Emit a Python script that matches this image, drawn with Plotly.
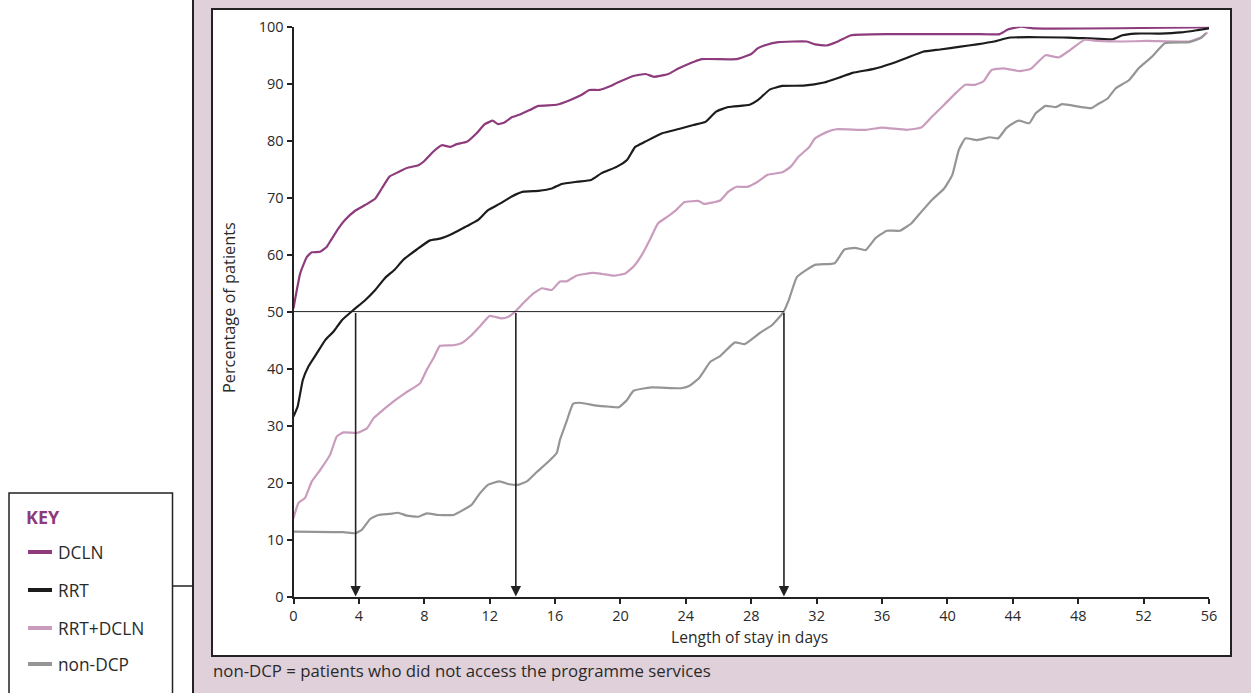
import plotly.graph_objects as go

# ---------------- data (day, cumulative % of patients) ----------------
DCLN = [(0, 50.6), (0.41, 56.7), (0.82, 59.6), (1.12, 60.4), (1.63, 60.5), (2.04, 61.4), (2.24, 62.3),
        (2.75, 64.6), (3.16, 66.1), (3.77, 67.7), (4.38, 68.7), (4.99, 69.8), (5.40, 71.6), (5.87, 73.7),
        (6.42, 74.5), (6.93, 75.2), (7.64, 75.7), (7.95, 76.3), (8.56, 78.1), (9.07, 79.2), (9.58, 78.9),
        (9.99, 79.4), (10.6, 79.8), (11.2, 81.3), (11.7, 82.9), (12.2, 83.5), (12.5, 82.9), (12.9, 83.2),
        (13.35, 84.1), (13.86, 84.6), (14.47, 85.4), (14.98, 86.1), (16.1, 86.3), (16.9, 87.1), (17.6, 88.0),
        (18.1, 88.9), (18.7, 88.9), (19.4, 89.6), (19.76, 90.1), (20.78, 91.35), (21.54, 91.7), (22.05, 91.2),
        (22.93, 91.7), (23.57, 92.7), (24.2, 93.5), (24.96, 94.3), (27.1, 94.3), (28.0, 95.2), (28.39, 96.2),
        (28.9, 96.8), (29.66, 97.3), (31.4, 97.4), (31.9, 96.9), (32.6, 96.7), (33.3, 97.4), (34.1, 98.5),
        (36.5, 98.7), (41.6, 98.7), (43.2, 98.7), (43.7, 99.5), (44.5, 100), (45.3, 99.7), (56, 99.9)]

RRT = [(0, 31.6), (0.25, 33.3), (0.57, 38.0), (0.92, 40.4), (1.43, 42.7), (1.94, 45.0), (2.45, 46.5),
       (2.96, 48.5), (3.67, 50.3), (4.38, 52.0), (5.0, 53.8), (5.6, 55.9), (6.2, 57.4), (6.72, 59.1),
       (7.54, 60.9), (8.35, 62.5), (8.96, 62.8), (9.78, 63.75), (10.6, 65.0), (11.3, 66.1), (11.9, 67.8),
       (12.6, 68.9), (13.35, 70.2), (14.06, 71.05), (14.98, 71.2), (15.8, 71.6), (16.4, 72.4), (17.4, 72.8),
       (18.2, 73.1), (18.85, 74.3), (19.76, 75.4), (20.4, 76.6), (20.9, 78.9), (21.5, 79.8), (22.55, 81.3),
       (23.57, 82.05), (24.46, 82.75), (25.2, 83.3), (25.85, 85.1), (26.6, 85.9), (27.9, 86.3), (28.4, 87.1),
       (29.15, 89.0), (29.9, 89.6), (31.2, 89.65), (32.45, 90.2), (33.5, 91.2), (34.2, 91.9), (35.5, 92.6),
       (36.5, 93.45), (37.5, 94.5), (38.5, 95.6), (39.55, 96.0), (40.8, 96.5), (41.8, 96.9), (42.85, 97.4),
       (43.85, 98.1), (47.4, 98.1), (48.7, 97.95), (50.1, 97.8), (50.7, 98.5), (51.5, 98.8), (53.0, 98.8),
       (54.3, 99.0), (55.3, 99.4), (56, 99.7)]

RRT_DCLN = [(0, 13.75), (0.3, 16.4), (0.71, 17.3), (1.12, 20.2), (1.63, 22.2), (2.24, 24.9), (2.65, 28.1),
            (3.06, 28.8), (3.88, 28.7), (4.49, 29.5), (4.9, 31.3), (5.5, 32.8), (6.1, 34.2), (6.83, 35.7),
            (7.74, 37.4), (8.15, 39.8), (8.56, 41.8), (8.96, 44.0), (9.78, 44.1), (10.3, 44.5), (10.9, 45.9),
            (11.4, 47.4), (12.0, 49.25), (12.74, 48.8), (13.14, 49.1), (13.55, 50.0), (14.06, 51.5),
            (14.67, 53.2), (15.2, 54.1), (15.8, 53.8), (16.3, 55.3), (16.7, 55.3), (17.3, 56.3), (18.3, 56.8),
            (18.9, 56.6), (19.6, 56.3), (20.3, 56.7), (20.8, 57.9), (21.3, 59.9), (21.8, 62.6), (22.3, 65.5),
            (22.9, 66.7), (23.4, 67.8), (23.9, 69.2), (24.8, 69.4), (25.1, 68.9), (26.1, 69.5), (26.6, 71.05),
            (27.1, 71.9), (27.75, 71.9), (28.4, 72.8), (29.0, 74.0), (29.9, 74.45), (30.4, 75.4), (30.9, 77.2),
            (31.55, 78.9), (31.9, 80.4), (32.6, 81.5), (33.2, 82.0), (35.0, 81.9), (36.0, 82.3), (37.5, 81.9),
            (38.4, 82.3), (39.05, 84.2), (39.8, 86.3), (40.6, 88.6), (41.1, 89.8), (41.7, 89.8), (42.2, 90.4),
            (42.7, 92.4), (43.4, 92.7), (44.4, 92.2), (45.1, 92.6), (46.0, 95.0), (46.8, 94.6), (47.5, 95.9),
            (48.4, 97.7), (49.2, 97.5), (50.7, 97.4), (52.2, 97.5), (54.8, 97.4), (55.5, 98.1), (55.9, 99.0)]

NON_DCP = [(0, 11.4), (3.06, 11.3), (3.77, 11.1), (4.18, 11.7), (4.69, 13.6), (5.2, 14.3), (5.9, 14.5),
           (6.4, 14.7), (6.93, 14.2), (7.64, 14.0), (8.15, 14.6), (8.86, 14.3), (9.78, 14.3), (10.2, 14.9),
           (10.9, 16.1), (11.4, 18.1), (11.9, 19.6), (12.6, 20.2), (13.2, 19.7), (13.75, 19.6), (14.27, 20.2),
           (14.9, 21.9), (15.6, 23.7), (16.1, 25.2), (16.3, 27.5), (16.7, 30.7), (17.1, 33.8), (17.5, 34.0),
           (18.55, 33.5), (19.36, 33.3), (19.9, 33.2), (20.4, 34.5), (20.8, 36.1), (21.9, 36.7), (23.7, 36.55),
           (24.2, 36.95), (24.8, 38.3), (25.5, 41.2), (26.1, 42.2), (27.0, 44.6), (27.6, 44.3), (28.5, 46.2),
           (29.3, 47.7), (29.97, 49.9), (30.3, 52.05), (30.8, 56.1), (31.9, 58.2), (33.1, 58.5), (33.7, 60.9),
           (34.35, 61.2), (35.0, 60.8), (35.6, 62.9), (36.3, 64.2), (37.1, 64.2), (37.8, 65.5), (38.4, 67.5),
           (39.05, 69.6), (39.8, 71.6), (40.3, 74.0), (40.7, 78.4), (41.1, 80.4), (41.8, 80.1), (42.6, 80.6),
           (43.1, 80.4), (43.6, 82.2), (44.1, 83.2), (44.4, 83.5), (45.0, 83.05), (45.4, 84.8), (46.0, 86.1),
           (46.65, 85.9), (47.0, 86.4), (48.8, 85.7), (49.2, 86.4), (49.8, 87.4), (50.3, 89.2), (51.1, 90.6),
           (51.7, 92.7), (52.5, 94.7), (53.3, 97.1), (54.8, 97.3), (55.5, 98.0), (55.8, 98.8)]

SERIES_NAMES = ["DCLN", "RRT", "RRT+DCLN", "non-DCP"]
SERIES_COLORS = ["#8d3b7c", "#1c1c1c", "#c99cbd", "#959595"]

MEDIAN_LEVEL = 50
MEDIAN_DAYS = [3.8, 13.6, 30.0]

X_TICKS = list(range(0, 57, 4))
Y_TICKS = list(range(0, 101, 10))

# ---------------- figure ----------------
W, H = 1251, 693


def px(x):
    return x / W


def py(y):
    return (H - y) / H


FONT = "'Open Sans', Lato, sans-serif"
DARK = "#222222"
TXT = "#2a2a2a"
PANEL = "#dfd0da"

fig = go.Figure()
for name, data, color in zip(SERIES_NAMES, [DCLN, RRT, RRT_DCLN, NON_DCP], SERIES_COLORS):
    fig.add_trace(go.Scatter(
        x=[d[0] for d in data], y=[d[1] for d in data], mode="lines", name=name,
        line=dict(color=color, width=2.2, shape="spline", smoothing=0.4),
        showlegend=False, hoverinfo="x+y+name"))

shapes = []
# pink panel
shapes.append(dict(type="rect", xref="paper", yref="paper", x0=px(193), x1=px(1260), y0=py(700), y1=py(-10),
                   fillcolor=PANEL, line=dict(width=0), layer="below"))
shapes.append(dict(type="line", xref="paper", yref="paper", x0=px(193), x1=px(193), y0=py(700), y1=py(-10),
                   line=dict(color=DARK, width=2), layer="below"))
# white inner box
shapes.append(dict(type="rect", xref="paper", yref="paper", x0=px(212), x1=px(1231), y0=py(656), y1=py(9),
                   fillcolor="white", line=dict(color=DARK, width=2), layer="below"))
# legend box + connector
shapes.append(dict(type="rect", xref="paper", yref="paper", x0=px(9), x1=px(172.5), y0=py(710), y1=py(493),
                   fillcolor="white", line=dict(color=DARK, width=1.5), layer="below"))
shapes.append(dict(type="line", xref="paper", yref="paper", x0=px(172.5), x1=px(193), y0=py(586), y1=py(586),
                   line=dict(color=DARK, width=1.5), layer="below"))
# median reference line
shapes.append(dict(type="line", xref="x", yref="y", x0=0, x1=max(MEDIAN_DAYS), y0=MEDIAN_LEVEL, y1=MEDIAN_LEVEL,
                   line=dict(color=DARK, width=1)))

annotations = []
# legend entries
legend_y = [552, 590, 628, 664]
annotations.append(dict(xref="paper", yref="paper", x=px(24), y=py(517), text="<b>KEY</b>", showarrow=False,
                        xanchor="left", yanchor="middle", font=dict(family=FONT, size=18, color="#8d3b7c")))
for name, color, ly in zip(SERIES_NAMES, SERIES_COLORS, legend_y):
    shapes.append(dict(type="line", xref="paper", yref="paper", x0=px(28), x1=px(52), y0=py(ly), y1=py(ly),
                       line=dict(color=color, width=4)))
    annotations.append(dict(xref="paper", yref="paper", x=px(56), y=py(ly), text=name, showarrow=False,
                            xanchor="left", yanchor="middle", font=dict(family=FONT, size=17.3, color=TXT)))

# arrows for medians
for d in MEDIAN_DAYS:
    annotations.append(dict(x=d, y=0, ax=d, ay=MEDIAN_LEVEL, xref="x", yref="y", axref="x", ayref="y",
                            text="", showarrow=True, arrowhead=2, arrowsize=1.3, arrowwidth=1.6,
                            arrowcolor=DARK, standoff=0))

# axis titles & footnote
annotations.append(dict(xref="paper", yref="paper", x=px(229), y=py(308), text="Percentage of patients",
                        textangle=-90, showarrow=False, xanchor="center", yanchor="middle",
                        font=dict(family=FONT, size=16.3, color=TXT)))
annotations.append(dict(xref="paper", yref="paper", x=px(749), y=py(637), text="Length of stay in days",
                        showarrow=False, xanchor="center", yanchor="middle",
                        font=dict(family=FONT, size=15.6, color=TXT)))
annotations.append(dict(xref="paper", yref="paper", x=px(211), y=py(670),
                        text="non-DCP = patients who did not access the programme services",
                        showarrow=False, xanchor="left", yanchor="middle",
                        font=dict(family=FONT, size=16.8, color=TXT)))

fig.update_layout(
    width=W, height=H, margin=dict(l=0, r=0, t=0, b=0, autoexpand=False),
    paper_bgcolor="white", plot_bgcolor="rgba(0,0,0,0)",
    shapes=shapes, annotations=annotations,
    xaxis=dict(domain=[px(293.5), px(1209)], range=[0, 56], tickvals=X_TICKS, ticks="outside", ticklen=5,
               tickwidth=1.5, tickcolor=DARK, showline=True, linecolor=DARK, linewidth=2, showgrid=False,
               zeroline=False, automargin=False, tickfont=dict(family=FONT, size=14.5, color=TXT)),
    yaxis=dict(domain=[py(596.5), py(26.7)], range=[0, 100], tickvals=Y_TICKS, ticks="outside", ticklen=5,
               tickwidth=1.5, tickcolor=DARK, showline=True, linecolor=DARK, linewidth=2, showgrid=False,
               zeroline=False, automargin=False, tickfont=dict(family=FONT, size=14.5, color=TXT)),
)

fig.write_html("out.html", config={"displayModeBar": False},
               post_script="document.body.style.margin='0';")
